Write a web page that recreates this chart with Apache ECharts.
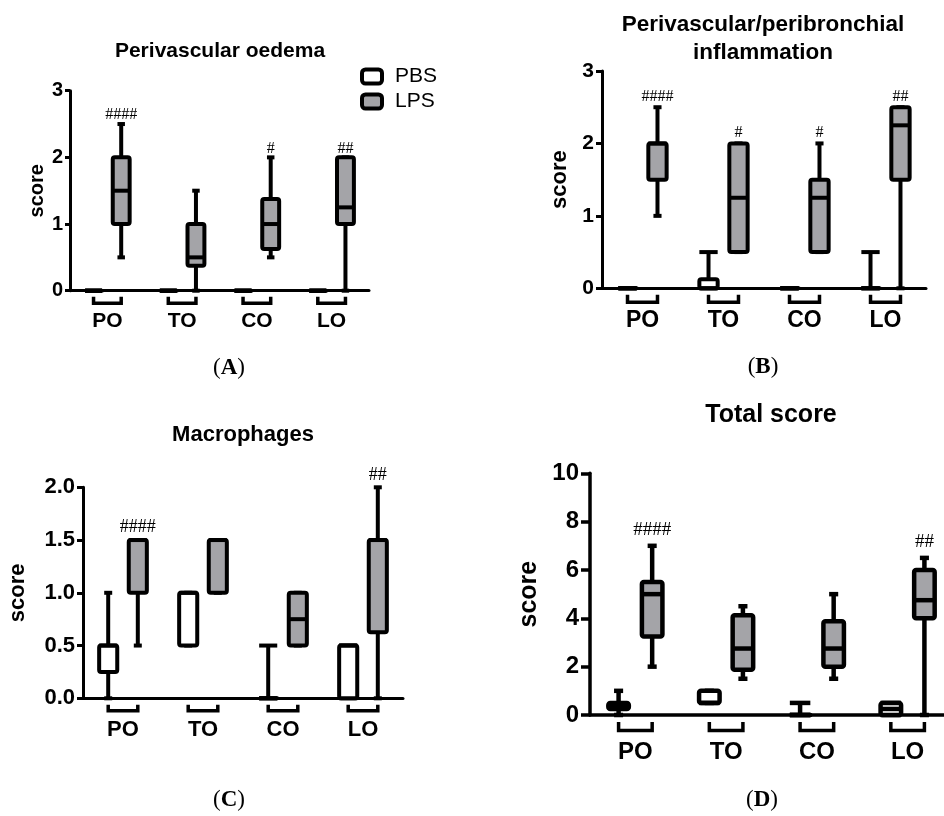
<!DOCTYPE html>
<html lang="en">
<head>
  <meta charset="UTF-8">
  <title>Histology scores PBS vs LPS</title>
  <style>
    * { box-sizing: border-box; margin: 0; padding: 0; }
    body { background: #fff; }
    #chart { width: 944px; height: 816px; }
  </style>
  <script src="https://cdn.jsdelivr.net/npm/echarts@6/dist/echarts.min.js"></script>
</head>
<body>
  <div id="chart"></div>

  <script>
    // groups on every x axis
    const categories = ['PO', 'TO', 'CO', 'LO'];

    // each box: [min, Q1, median, Q3, max], one per category
    // (A) perivascular oedema
    const oedemaPBS = [[0, 0, 0, 0, 0], [0, 0, 0, 0, 0], [0, 0, 0, 0, 0], [0, 0, 0, 0, 0]];
    const oedemaLPS = [[0.5, 1, 1.5, 2, 2.5], [0, 0.375, 0.5, 1, 1.5], [0.5, 0.625, 1, 1.375, 2], [0, 1, 1.25, 2, 2]];
    const oedemaMarks = [[0, 2.64, '####'], [2, 2.13, '#'], [3, 2.13, '##']];

    // (B) perivascular/peribronchial inflammation
    const inflamPBS = [[0, 0, 0, 0, 0], [0, 0, 0, 0.125, 0.5], [0, 0, 0, 0, 0], [0, 0, 0, 0, 0.5]];
    const inflamLPS = [[1, 1.5, 2, 2, 2.5], [0.5, 0.5, 1.25, 2, 2], [0.5, 0.5, 1.25, 1.5, 2], [0, 1.5, 2.25, 2.5, 2.5]];
    const inflamMarks = [[0, 2.65, '####'], [1, 2.14, '#'], [2, 2.14, '#'], [3, 2.65, '##']];

    // (C) macrophages
    const macroPBS = [[0, 0.25, 0.5, 0.5, 1], [0.5, 0.5, 1, 1, 1], [0, 0, 0, 0, 0.5], [0, 0, 0.5, 0.5, 0.5]];
    const macroLPS = [[0.5, 1, 1.5, 1.5, 1.5], [1, 1, 1.5, 1.5, 1.5], [0.5, 0.5, 0.75, 1, 1], [0, 0.625, 1.5, 1.5, 2]];
    const macroMarks = [[0, 1.62, '####'], [3, 2.11, '##']];

    // (D) total score
    const totalPBS = [[0, 0.25, 0.375, 0.5, 1], [0.5, 0.5, 0.5, 1, 1], [0, 0, 0, 0, 0.5], [0, 0, 0.25, 0.5, 0.5]];
    const totalLPS = [[2, 3.25, 5, 5.5, 7], [1.5, 1.875, 2.75, 4.125, 4.5], [1.5, 2, 2.75, 3.875, 5], [0, 4, 4.75, 6, 6.5]];
    const totalMarks = [[0, 7.64, '####'], [3, 7.14, '##']];

    const SANS = 'Liberation Sans, Arial, sans-serif';
    const SERIF = 'Liberation Serif, Times New Roman, serif';
    const GREY = '#a4a4a8';

    // box centre offset / half widths, as a share of the category band
    const OFFSET = 0.185;
    const HALF_BOX = 0.113;
    const HALF_CAP = 0.05;

    const panels = [
      { title: 'Perivascular oedema', tx: 220, ty: 51, tFont: 21, tLine: 24, letter: 'A', lx: 229, ly: 368,
        grid: { left: 70, top: 90.7, width: 299, height: 200 }, yMax: 3, yStep: 1, digits: 0,
        tickFont: 20, tickLen: 5, nameFont: 20, nameGap: 23, catFont: 21, catMargin: 20,
        lw: 4, axisW: 3, hashFont: 16, bracket: [6, 12.5],
        pbs: oedemaPBS, lps: oedemaLPS, marks: oedemaMarks },
      { title: 'Perivascular/peribronchial\ninflammation', tx: 763, ty: 39, tFont: 22.5, tLine: 28, letter: 'B', lx: 763, ly: 367,
        grid: { left: 602, top: 71, width: 324, height: 217.3 }, yMax: 3, yStep: 1, digits: 0,
        tickFont: 21, tickLen: 6, nameFont: 22, nameGap: 31, catFont: 23, catMargin: 21,
        lw: 4, axisW: 3, hashFont: 16, bracket: [6.5, 14],
        pbs: inflamPBS, lps: inflamLPS, marks: inflamMarks },
      { title: 'Macrophages', tx: 243, ty: 435, tFont: 22, tLine: 26, letter: 'C', lx: 229, ly: 800,
        grid: { left: 83, top: 487.3, width: 320, height: 211 }, yMax: 2, yStep: 0.5, digits: 1,
        tickFont: 22, tickLen: 6, nameFont: 22, nameGap: 54, catFont: 22, catMargin: 20.5,
        lw: 4, axisW: 3, hashFont: 18, bracket: [6.5, 12.5],
        pbs: macroPBS, lps: macroLPS, marks: macroMarks },
      { title: 'Total score', tx: 771, ty: 415, tFont: 25, tLine: 30, letter: 'D', lx: 762, ly: 800,
        grid: { left: 590, top: 473.3, width: 363, height: 241.7 }, yMax: 10, yStep: 2, digits: 0,
        tickFont: 24, tickLen: 9, nameFont: 25, nameGap: 48, catFont: 24, catMargin: 25,
        lw: 4.5, axisW: 3.5, hashFont: 19, bracket: [7, 15.5],
        pbs: totalPBS, lps: totalLPS, marks: totalMarks }
    ];

    // box + whiskers, side -1 = PBS (left), +1 = LPS (right)
    function boxRender(side, fill, lw) {
      return function (params, api) {
        const band = api.size([1, 0])[0];
        const cat = api.value(0);
        const x = api.coord([cat, 0])[0] + side * band * OFFSET;
        const y = [1, 2, 3, 4, 5].map(d => api.coord([cat, api.value(d)])[1]);
        const hw = band * HALF_BOX;
        // boxes resting on zero get a full-width cap, as in the original
        const cw = api.value(2) <= 0 ? hw : band * HALF_CAP;
        const seg = (x1, y1, x2, y2) => ({
          type: 'line', shape: { x1, y1, x2, y2 }, style: { stroke: '#000', lineWidth: lw }
        });
        return {
          type: 'group',
          children: [
            seg(x, y[0], x, y[1]), seg(x, y[3], x, y[4]),
            seg(x - cw, y[0], x + cw, y[0]), seg(x - cw, y[4], x + cw, y[4]),
            { type: 'rect', shape: { x: x - hw, y: y[3], width: hw * 2, height: y[1] - y[3], r: 2 },
              style: { fill, stroke: '#000', lineWidth: lw, lineJoin: 'round' } },
            seg(x - hw, y[2], x + hw, y[2])
          ]
        };
      };
    }

    // bracket under each PBS/LPS pair
    function bracketRender(lw, gap) {
      return function (params, api) {
        const band = api.size([1, 0])[0];
        const c = api.coord([api.value(0), 0]);
        const o = band * OFFSET;
        const y1 = c[1] + gap[0], y2 = c[1] + gap[1];
        return {
          type: 'polyline',
          shape: { points: [[c[0] - o, y1], [c[0] - o, y2], [c[0] + o, y2], [c[0] + o, y1]] },
          style: { fill: 'none', stroke: '#000', lineWidth: lw }
        };
      };
    }

    // significance marks above the LPS boxes
    function markRender(p) {
      return function (params, api) {
        const band = api.size([1, 0])[0];
        const pt = api.coord([api.value(0), api.value(1)]);
        return {
          type: 'text', x: pt[0] + band * OFFSET, y: pt[1],
          style: { text: p.marks[params.dataIndex][2], fill: '#000', fontFamily: SERIF,
                   fontSize: p.hashFont, align: 'center', verticalAlign: 'middle' }
        };
      };
    }

    const grids = [], xAxes = [], yAxes = [], series = [], graphics = [];

    panels.forEach((p, i) => {
      grids.push(Object.assign({ outerBoundsMode: 'none', containLabel: false }, p.grid));

      xAxes.push({
        type: 'category', gridIndex: i, data: categories, boundaryGap: true,
        axisLine: { show: true, lineStyle: { color: '#000', width: p.axisW } },
        axisTick: { show: false },
        axisLabel: { interval: 0, fontFamily: SANS, fontWeight: 'bold', fontSize: p.catFont,
                     color: '#000', margin: p.catMargin },
        splitLine: { show: false }
      });

      yAxes.push({
        type: 'value', gridIndex: i, min: 0, max: p.yMax, interval: p.yStep,
        name: 'score', nameLocation: 'middle', nameGap: p.nameGap, nameMoveOverlap: false,
        nameTextStyle: { fontFamily: SANS, fontWeight: 'bold', fontSize: p.nameFont, color: '#000' },
        axisLine: { show: true, lineStyle: { color: '#000', width: p.axisW } },
        axisTick: { show: true, length: p.tickLen, lineStyle: { color: '#000', width: p.axisW } },
        axisLabel: { fontFamily: SANS, fontWeight: 'bold', fontSize: p.tickFont, color: '#000',
                     margin: p.tickLen + 2, formatter: v => v.toFixed(p.digits) },
        splitLine: { show: false }
      });

      series.push({
        type: 'custom', name: 'PBS', xAxisIndex: i, yAxisIndex: i,
        itemStyle: { color: '#fff' },
        data: p.pbs.map((d, k) => [k].concat(d)),
        encode: { x: 0, y: [1, 2, 3, 4, 5] },
        renderItem: boxRender(-1, '#fff', p.lw)
      });
      series.push({
        type: 'custom', name: 'LPS', xAxisIndex: i, yAxisIndex: i,
        itemStyle: { color: GREY },
        data: p.lps.map((d, k) => [k].concat(d)),
        encode: { x: 0, y: [1, 2, 3, 4, 5] },
        renderItem: boxRender(1, GREY, p.lw)
      });
      series.push({
        type: 'custom', xAxisIndex: i, yAxisIndex: i, silent: true,
        data: categories.map((c, k) => [k, 0]),
        encode: { x: 0, y: 1 },
        renderItem: bracketRender(3.5, p.bracket)
      });
      series.push({
        type: 'custom', xAxisIndex: i, yAxisIndex: i, silent: true,
        data: p.marks.map(m => [m[0], m[1]]),
        encode: { x: 0, y: 1 },
        renderItem: markRender(p)
      });

      graphics.push({
        type: 'text', x: p.tx, y: p.ty,
        style: { text: p.title, fontFamily: SANS, fontWeight: 'bold', fontSize: p.tFont,
                 lineHeight: p.tLine, fill: '#000', align: 'center', verticalAlign: 'middle' }
      });
      graphics.push({
        type: 'text', x: p.lx, y: p.ly,
        style: {
          text: '{p|(}{b|' + p.letter + '}{p|)}', align: 'center', verticalAlign: 'middle', fill: '#000',
          rich: {
            p: { fontFamily: SERIF, fontSize: 23, fill: '#000' },
            b: { fontFamily: SERIF, fontSize: 23, fontWeight: 'bold', fill: '#000' }
          }
        }
      });
    });

    const chart = echarts.init(document.getElementById('chart'), null, { renderer: 'canvas' });
    chart.setOption({
      animation: false,
      backgroundColor: '#fff',
      legend: {
        orient: 'vertical', left: 360, top: 66, padding: 0,
        itemWidth: 20, itemHeight: 14, itemGap: 4, icon: 'roundRect', selectedMode: false,
        textStyle: { fontFamily: SANS, fontSize: 21, color: '#000', padding: [0, 0, 0, 8] },
        data: [
          { name: 'PBS', itemStyle: { color: '#fff', borderColor: '#000', borderWidth: 4 } },
          { name: 'LPS', itemStyle: { color: GREY, borderColor: '#000', borderWidth: 4 } }
        ]
      },
      grid: grids,
      xAxis: xAxes,
      yAxis: yAxes,
      series: series,
      graphic: graphics
    });
  </script>
</body>
</html>
